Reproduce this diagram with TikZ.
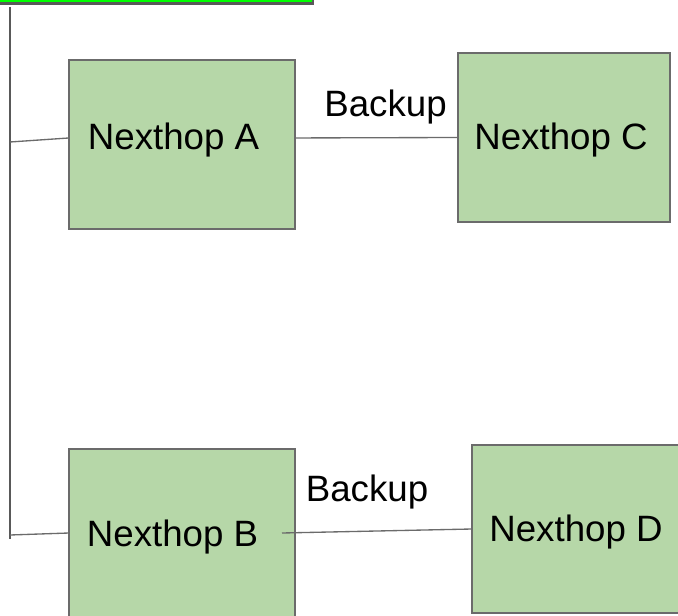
\documentclass[tikz,border=0pt]{standalone}
\usepackage{fontspec}
\setmainfont{Liberation Sans}

\definecolor{hopgreen}{HTML}{B6D7A8}
\definecolor{boxline}{HTML}{6B6B6B}
\definecolor{bargreen}{HTML}{00FF00}
\definecolor{barline}{HTML}{595959}

\tikzset{every picture/.style={line width=0.75pt}}
\tikzset{
  hopbox/.style={draw=boxline, fill=hopgreen, line width=1pt, inner sep=0pt, outer sep=0pt},
  topbar/.style={draw=barline, fill=bargreen, line width=1.6pt, inner sep=0pt, outer sep=0pt},
  link/.style={draw=boxline, line width=1pt},
  bus/.style={draw=barline, line width=1.5pt},
  hoptext/.style={anchor=base, inner sep=0pt, font=\fontsize{27.5}{33}\selectfont},
}

\begin{document}
\begin{tikzpicture}[x=0.75pt,y=0.75pt,yscale=-1,xscale=1]
\useasboundingbox (0,0) rectangle (678,616);

%Shape: Rectangle [top bar]
\node (bar) [topbar, minimum width=237pt, minimum height=10.125pt] at (155,-3.25) {};

%Shape: Rectangle [Nexthop A]
\node (nA) [hopbox, minimum width=169.5pt, minimum height=126.75pt] at (182,144.5) {};
%Shape: Rectangle [Nexthop C]
\node (nC) [hopbox, minimum width=159pt, minimum height=126.75pt] at (564,137.5) {};
%Shape: Rectangle [Nexthop B]
\node (nB) [hopbox, minimum width=169.5pt, minimum height=126pt] at (182,533) {};
%Shape: Rectangle [Nexthop D]
\node (nD) [hopbox, minimum width=156pt, minimum height=126pt] at (576,529) {};

%Straight Lines [bus]
\coordinate (busTop) at (9.5,7);
\coordinate (busBot) at (9.5,539);
\draw [bus] (busTop) -- (busBot);
%Straight Lines [bus to A]
\coordinate (tapA) at (10,142);
\draw [link] (tapA) -- ([yshift=-4.9pt]nA.west);
%Straight Lines [bus to B]
\coordinate (tapB) at (10,535);
\draw [link] (tapB) -- (nB.west);

%Straight Lines [A to C]
\draw [link] ([yshift=-4.9pt]nA.east) -- (nC.west);
%Straight Lines [B to D]
\draw [link] ([xshift=-9.75pt]nB.east) -- (nD.west);

% Text Node
\node (tA) [hoptext] at (173.5,150) {Nexthop A};
% Text Node
\node (tC) [hoptext] at (561,150) {Nexthop C};
% Text Node
\node (tB) [hoptext] at (172.5,546) {Nexthop B};
% Text Node
\node (tD) [hoptext] at (576,541) {Nexthop D};
% Text Node
\node (lblAC) [hoptext] at (385.5,116.7) {Backup};
% Text Node
\node (lblBD) [hoptext] at (367,501.7) {Backup};

\end{tikzpicture}
\end{document}
